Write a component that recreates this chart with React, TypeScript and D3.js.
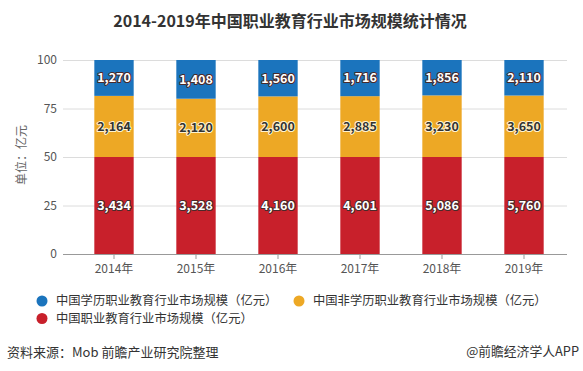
import React, { useEffect, useRef } from 'react';
import * as d3 from 'd3';

const years = ['2014年', '2015年', '2016年', '2017年', '2018年', '2019年'];
const academic = [1270, 1408, 1560, 1716, 1856, 2110];
const nonAcademic = [2164, 2120, 2600, 2885, 3230, 3650];
const totalMarket = [3434, 3528, 4160, 4601, 5086, 5760];
const yTicks = [0, 25, 50, 75, 100];

const seriesNames = [
  '中国学历职业教育行业市场规模（亿元）',
  '中国非学历职业教育行业市场规模（亿元）',
  '中国职业教育行业市场规模（亿元）',
];
const colors = ['#1b74bd', '#eda825', '#c8202b'];

const W = 583;
const H = 371;
const FONT = '"Noto Sans CJK SC", "Noto Sans", sans-serif';

const App: React.FC = () => {
  const svgRef = useRef<SVGSVGElement>(null);

  useEffect(() => {
    if (!svgRef.current) return;
    const svg = d3.select(svgRef.current);
    svg.selectAll('*').remove();

    const rows = years.map((y, i) => ({
      year: y,
      total: totalMarket[i],
      non: nonAcademic[i],
      acad: academic[i],
    }));

    // bottom: total (red), middle: non-academic, top: academic
    const keys = ['total', 'non', 'acad'];
    const keyColor: Record<string, string> = { total: colors[2], non: colors[1], acad: colors[0] };
    const stack = d3.stack<any>().keys(keys).offset(d3.stackOffsetExpand);
    const layers = stack(rows);

    const plotLeft = 63;
    const plotRight = 567;
    const x = d3.scaleBand().domain(years).range([73, 565]).paddingInner(0.52).paddingOuter(0.26);
    const y = d3.scaleLinear().domain([0, 100]).range([254, 60]);

    // title
    svg.append('text')
      .attr('x', 290).attr('y', 27)
      .attr('text-anchor', 'middle')
      .style('font-family', FONT)
      .style('font-size', '16px')
      .style('font-weight', 'bold')
      .style('fill', '#333')
      .text('2014-2019年中国职业教育行业市场规模统计情况');

    // gridlines
    svg.append('g').selectAll('line').data(yTicks.filter(t => t > 0)).join('line')
      .attr('x1', plotLeft).attr('x2', plotRight)
      .attr('y1', d => y(d) + 0.5).attr('y2', d => y(d) + 0.5)
      .attr('stroke', '#dcdcdc').attr('stroke-width', 1);

    // y tick labels
    svg.append('g').selectAll('text').data(yTicks).join('text')
      .attr('x', 57).attr('y', d => y(d))
      .attr('dy', '0.35em')
      .attr('text-anchor', 'end')
      .style('font-family', FONT)
      .style('font-size', '12px')
      .style('fill', '#555')
      .text(d => d);

    // y axis title
    svg.append('text')
      .attr('transform', `translate(22,155) rotate(-90)`)
      .attr('text-anchor', 'middle')
      .attr('dy', '0.35em')
      .style('font-family', FONT)
      .style('font-size', '12px')
      .style('fill', '#666')
      .text('单位：亿元');

    // bars
    layers.forEach(layer => {
      const g = svg.append('g');
      g.selectAll('rect').data(layer).join('rect')
        .attr('x', d => x(d.data.year)!)
        .attr('width', x.bandwidth())
        .attr('y', d => y(d[1] * 100))
        .attr('height', d => y(d[0] * 100) - y(d[1] * 100))
        .attr('fill', keyColor[layer.key]);

      const dark = layer.key === 'non';
      g.selectAll('text').data(layer).join('text')
        .attr('x', d => x(d.data.year)! + x.bandwidth() / 2)
        .attr('y', d => y(((d[0] + d[1]) / 2) * 100))
        .attr('dy', '0.35em')
        .attr('text-anchor', 'middle')
        .style('font-family', FONT)
        .style('font-size', '12.5px')
        .style('font-weight', 'bold')
        .style('fill', dark ? '#333' : '#fff')
        .style('stroke', dark ? '#fff3d0' : '#4a2a2a')
        .style('stroke-width', 2)
        .style('stroke-linejoin', 'round')
        .style('paint-order', 'stroke')
        .text(d => d3.format(',')(d.data[layer.key]));
    });

    // x axis
    svg.append('line')
      .attr('x1', plotLeft).attr('x2', plotRight)
      .attr('y1', 254.5).attr('y2', 254.5)
      .attr('stroke', '#999');
    svg.append('g').selectAll('line').data(years).join('line')
      .attr('x1', d => x(d)! + x.bandwidth() / 2).attr('x2', d => x(d)! + x.bandwidth() / 2)
      .attr('y1', 254.5).attr('y2', 259)
      .attr('stroke', '#999');
    svg.append('g').selectAll('text').data(years).join('text')
      .attr('x', d => x(d)! + x.bandwidth() / 2)
      .attr('y', 273)
      .attr('text-anchor', 'middle')
      .style('font-family', FONT)
      .style('font-size', '12px')
      .style('fill', '#555')
      .text(d => d);

    // legend
    const legendItems = [
      { name: seriesNames[0], color: colors[0], cx: 42, cy: 301 },
      { name: seriesNames[1], color: colors[1], cx: 299, cy: 301 },
      { name: seriesNames[2], color: colors[2], cx: 42, cy: 318.5 },
    ];
    const lg = svg.append('g').selectAll('g').data(legendItems).join('g');
    lg.append('circle')
      .attr('cx', d => d.cx).attr('cy', d => d.cy).attr('r', 5.5)
      .attr('fill', d => d.color);
    lg.append('text')
      .attr('x', d => d.cx + 14).attr('y', d => d.cy)
      .attr('dy', '0.35em')
      .style('font-family', FONT)
      .style('font-size', '12.3px')
      .style('fill', '#333')
      .text(d => d.name);

    // footer
    svg.append('text')
      .attr('x', 7).attr('y', 352).attr('dy', '0.35em')
      .style('font-family', FONT)
      .style('font-size', '13px')
      .style('fill', '#333')
      .text('资料来源：Mob 前瞻产业研究院整理');
    svg.append('text')
      .attr('x', 579).attr('y', 352).attr('dy', '0.35em')
      .attr('text-anchor', 'end')
      .style('font-family', FONT)
      .style('font-size', '12.8px')
      .style('fill', '#333')
      .text('@前瞻经济学人APP');
  }, []);

  return (
    <svg ref={svgRef} width={W} height={H}
      style={{ position: 'absolute', left: 0, top: 0, background: '#fff' }} />
  );
};

export default App;
